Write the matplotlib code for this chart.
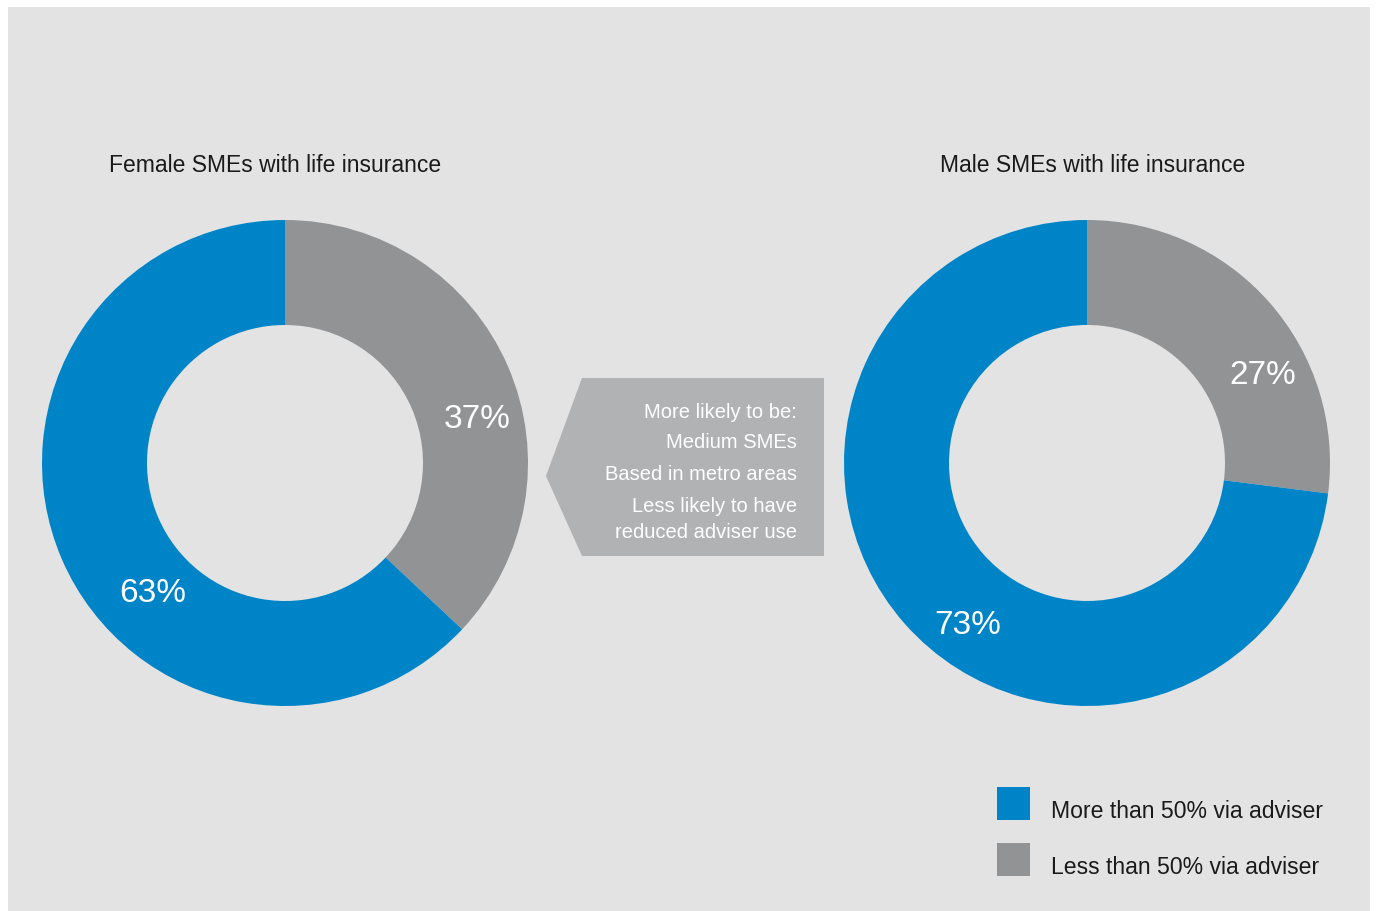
import matplotlib
matplotlib.use('Agg')
import matplotlib.pyplot as plt
from matplotlib.patches import Rectangle, Polygon

plt.rcParams['font.family'] = ['Liberation Sans', 'DejaVu Sans']

# shares of SMEs with life insurance (percent)
segments = ["Less than 50% via adviser", "More than 50% via adviser"]
female = [37, 63]
male = [27, 73]
titles = ["Female SMEs with life insurance", "Male SMEs with life insurance"]
callout_lines = ["More likely to be:", "Medium SMEs", "Based in metro areas",
                 "Less likely to have", "reduced adviser use"]

BLUE = '#0084c8'
GREY = '#919395'
BG = '#e3e3e3'
BOX = '#b1b2b3'

W, H = 1377, 911
fig = plt.figure(figsize=(W / 100, H / 100), dpi=100, facecolor='white')
ax = fig.add_axes([0, 0, 1, 1])


def y(py):
    # pixel rows counted from the top
    return H - py


ax.add_patch(Rectangle((8, 0), 1362, y(7), facecolor=BG, edgecolor='none', zorder=0))

R, r = 243, 138
donuts = [(female, (285, y(463)), titles[0], (275, y(165))),
          (male, (1087, y(463)), titles[1], (1093, y(165)))]
label_pos = [[(477, y(420)), (153, y(594))],
             [(1263, y(376)), (968, y(625))]]

for (vals, c, title, tpos), lpos in zip(donuts, label_pos):
    ax.pie(vals, colors=[GREY, BLUE], startangle=90, counterclock=False,
           center=c, radius=R, wedgeprops=dict(width=R - r, edgecolor='none'),
           frame=True)
    ax.text(tpos[0], tpos[1], title, ha='center', va='center', fontsize=16.5, color='#1a1a1a')
    for v, p in zip(vals, lpos):
        ax.text(p[0], p[1], f"{v}%", ha='center', va='center', fontsize=24,
                color='white')

ax.set_xlim(0, W)
ax.set_ylim(0, H)
ax.set_aspect('auto')
ax.axis('off')

# callout arrow pointing at the female chart
ax.add_patch(Polygon([(546, y(476)), (582, y(378)), (824, y(378)), (824, y(556)), (582, y(556))],
                     closed=True, facecolor=BOX, edgecolor='none'))
for txt, py in zip(callout_lines, [412, 443, 475, 507, 532]):
    ax.text(797, y(py), txt, ha='right', va='center', fontsize=14.5, color='white')

# legend
for col, lab, py in zip([BLUE, GREY], segments[::-1], [787, 843]):
    ax.add_patch(Rectangle((997, y(py + 33)), 33, 33, facecolor=col, edgecolor='none'))
    ax.text(1051, y(py + 25), lab, ha='left', va='center', fontsize=16.6, color='#1a1a1a')

fig.savefig('out.png', dpi=100, facecolor='white')
